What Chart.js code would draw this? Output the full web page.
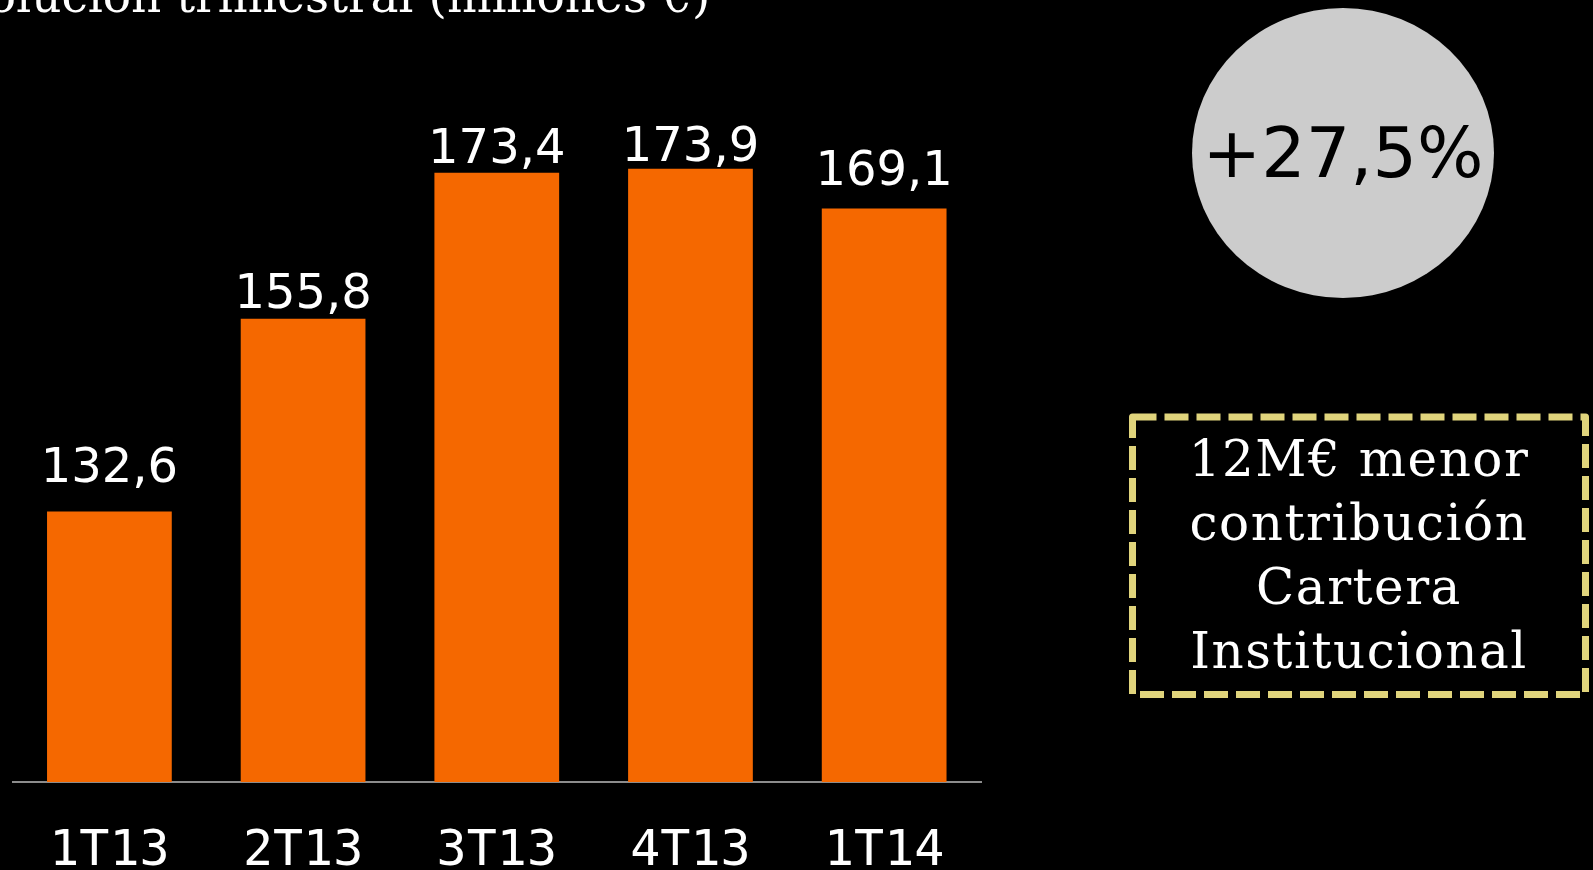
<!DOCTYPE html>
<html>
<head>
<meta charset="utf-8">
<script src="https://cdn.jsdelivr.net/npm/chart.js@4.4.1/dist/chart.umd.min.js"></script>
<style>
  html, body { margin: 0; padding: 0; background: #000; }
  #page { position: relative; width: 1593px; height: 870px; overflow: hidden; background: #000; }
  #wrap { position: absolute; left: 0; top: 0; width: 1593px; height: 870px; }
  .title { position: absolute; left: -73px; top: -28px; white-space: nowrap; color: #fff;
           font-family: "DejaVu Serif", serif; font-size: 47px; line-height: 47px; }
  .circle { position: absolute; left: 1192px; top: 8px; width: 302px; height: 290px; border-radius: 50%;
            background: #cccccc; color: #000; display: flex; align-items: center; justify-content: center;
            font-family: "DejaVu Sans", sans-serif; font-size: 70px; }
  .box { position: absolute; left: 0; top: 0; }
  .note { position: absolute; left: 1133px; top: 427px; width: 452px; text-align: center; color: #fff;
          font-family: "DejaVu Serif", serif; font-size: 50px; line-height: 64px; letter-spacing: 1.5px; }
</style>
</head>
<body>
<div id="page">
  <div id="wrap"><canvas id="myChart"></canvas></div>
  <div class="title">Evolución trimestral (millones €)</div>
  <div class="circle">+27,5%</div>
  <svg class="box" width="1593" height="870">
    <rect x="1132.5" y="417" width="453" height="277.5" fill="none" stroke="#e0d47c" stroke-width="7"
          stroke-dasharray="24 8" stroke-linejoin="round"></rect>
  </svg>
  <div class="note">12M€ menor<br>contribución<br>Cartera<br>Institucional</div>
</div>
<script>
var quarters = ['1T13', '2T13', '3T13', '4T13', '1T14'];
var margin = [132.6, 155.8, 173.4, 173.9, 169.1];
var valueLabels = ['132,6', '155,8', '173,4', '173,9', '169,1'];
// space between top of bar and its label (px)
var labelGap = [29, 11, 10, 8, 23];

var barLabels = {
    id: 'barLabels',
    afterDatasetsDraw: function(chart) {
        var ctx = chart.ctx;
        var meta = chart.getDatasetMeta(0);
        ctx.save();
        ctx.fillStyle = '#ffffff';
        ctx.font = '48px "DejaVu Sans"';
        ctx.textAlign = 'center';
        ctx.textBaseline = 'alphabetic';
        meta.data.forEach(function(bar, i) {
            ctx.fillText(valueLabels[i], bar.x, bar.y - labelGap[i]);
        });
        ctx.restore();
    }
};

var ctx = document.getElementById('myChart');
var myChart = new Chart(ctx, {
    type: 'bar',
    data: {
        labels: quarters,
        datasets: [{
            data: margin,
            backgroundColor: '#f56800',
            borderWidth: 0,
            barPercentage: 1,
            categoryPercentage: 0.644
        }]
    },
    options: {
        responsive: true,
        maintainAspectRatio: false,
        animation: false,
        layout: {
            padding: { left: 12, right: 612, top: 118, bottom: -53 }
        },
        plugins: {
            legend: { display: false },
            tooltip: { enabled: false }
        },
        scales: {
            y: {
                display: false,
                min: 100,
                max: 180
            },
            x: {
                grid: { display: false, drawTicks: false },
                border: { display: true, color: '#8c8c8c', width: 2 },
                ticks: {
                    color: '#ffffff',
                    padding: 48,
                    font: { family: 'DejaVu Sans Mono', size: 50, lineHeight: 0.9 }
                }
            }
        }
    },
    plugins: [barLabels]
});
</script>
</body>
</html>
